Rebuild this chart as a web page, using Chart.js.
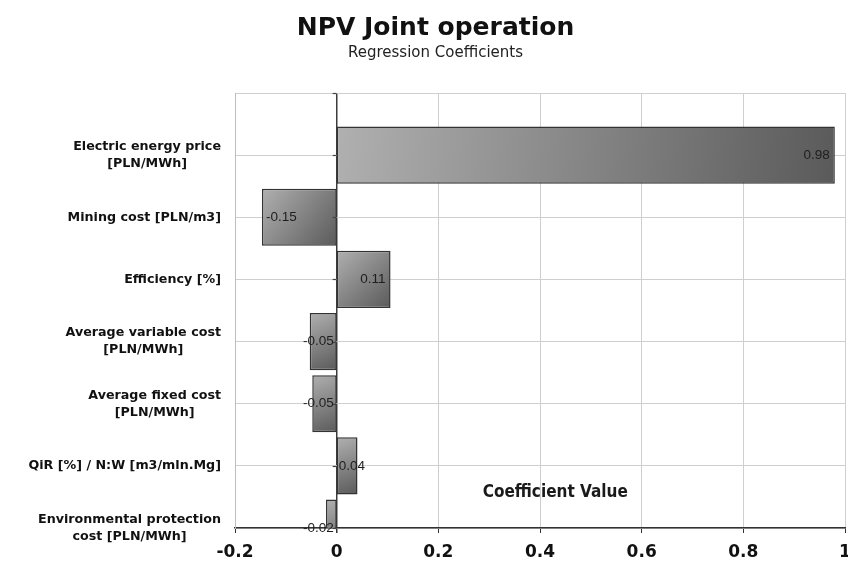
<!DOCTYPE html>
<html>
<head>
<meta charset="utf-8">
<script src="https://cdn.jsdelivr.net/npm/chart.js@4/dist/chart.umd.min.js"></script>
<style>
  html, body { margin: 0; padding: 0; background: #ffffff; }
  #wrap { width: 848px; height: 563px; position: relative; }
</style>
</head>
<body>
<div id="wrap"><canvas id="c" width="848" height="563"></canvas></div>
<script>
// ---- data ----
const chartTitle = 'NPV Joint operation';
const chartSubtitle = 'Regression Coefficients';
const axisTitle = 'Coefficient Value';
const categories = [
  ['Electric energy price', '[PLN/MWh]'],
  'Mining cost [PLN/m3]',
  'Efficiency [%]',
  ['Average variable cost', '[PLN/MWh]'],
  ['Average fixed cost', '[PLN/MWh]'],
  'QiR [%] / N:W [m3/mln.Mg]',
  ['Environmental protection', 'cost [PLN/MWh]']
];
const coefficients = [0.98, -0.147, 0.106, -0.053, -0.048, 0.041, -0.021];
const xMin = -0.2, xMax = 1, xStep = 0.2;

// leading empty slot gives the band above the first bar
const labels = [''].concat(categories);
const values = [null].concat(coefficients);

const BAR_PCT = 0.92;

function barGradient(ctx) {
  const chart = ctx.chart;
  if (!chart.chartArea || ctx.type !== 'data' || ctx.raw == null) return '#888888';
  const xs = chart.scales.x, ys = chart.scales.y;
  const x0 = xs.getPixelForValue(0), x1 = xs.getPixelForValue(ctx.raw);
  const yc = ys.getPixelForValue(ctx.dataIndex);
  const half = Math.abs(ys.getPixelForValue(1) - ys.getPixelForValue(0)) * BAR_PCT / 2;
  const g = chart.ctx.createLinearGradient(Math.min(x0, x1), yc - half, Math.max(x0, x1), yc + half);
  g.addColorStop(0, '#b0b0b0');
  g.addColorStop(1, '#5a5a5a');
  return g;
}

const extras = {
  id: 'extras',
  afterDatasetsDraw(chart) {
    const ctx = chart.ctx;
    const xs = chart.scales.x, ys = chart.scales.y;
    const area = chart.chartArea;
    const x0 = xs.getPixelForValue(0);
    ctx.save();
    // small ticks on the zero line
    ctx.strokeStyle = '#444444';
    ctx.lineWidth = 1.2;
    for (let i = 0; i < labels.length; i++) {
      const py = Math.round(ys.getPixelForValue(i)) + 0.5;
      ctx.beginPath();
      ctx.moveTo(x0 - 4, py);
      ctx.lineTo(x0, py);
      ctx.stroke();
    }
    // value labels
    const meta = chart.getDatasetMeta(0);
    ctx.font = '13.5px "Liberation Sans", Arial, sans-serif';
    ctx.fillStyle = '#1e1e1e';
    ctx.textBaseline = 'middle';
    meta.data.forEach((bar, i) => {
      const v = values[i];
      if (v == null) return;
      const p = bar.getProps(['x', 'base', 'y'], true);
      const txt = v.toFixed(2);
      const w = ctx.measureText(txt).width;
      const bw = Math.abs(p.x - p.base);
      const fits = w + 9 <= bw;
      if (v >= 0) {
        if (fits) { ctx.textAlign = 'right'; ctx.fillText(txt, p.x - 5, p.y); }
        else { ctx.textAlign = 'left'; ctx.fillText(txt, p.base + 2, p.y); }
      } else {
        if (fits) { ctx.textAlign = 'left'; ctx.fillText(txt, p.x + 4, p.y); }
        else { ctx.textAlign = 'right'; ctx.fillText(txt, p.base - 3, p.y); }
      }
    });
    // axis title inside the plot
    ctx.font = 'bold 16px "DejaVu Sans", sans-serif';
    ctx.font = 'bold condensed 17px "DejaVu Sans", sans-serif';
    ctx.fillStyle = '#1a1a1a';
    ctx.textAlign = 'center';
    ctx.fillText(axisTitle, area.left + (area.right - area.left) * 0.525, area.bottom - 35);
    ctx.restore();
  },
  afterDraw(chart) {
    // category labels: block right-aligned, lines centered within the block
    const ctx = chart.ctx;
    const ys = chart.scales.y;
    ctx.save();
    ctx.font = 'bold 12.7px "DejaVu Sans", Verdana, sans-serif';
    ctx.fillStyle = '#111111';
    ctx.textBaseline = 'middle';
    ctx.textAlign = 'center';
    const right = ys.right - 14;
    const lineH = 17;
    for (let i = 1; i < labels.length; i++) {
      const lines = Array.isArray(labels[i]) ? labels[i] : [labels[i]];
      const bw = Math.max(...lines.map(l => ctx.measureText(l).width));
      const cx = right - bw / 2;
      const py = ys.getPixelForValue(i);
      const start = py - (lines.length - 1) * lineH / 2;
      lines.forEach((l, k) => ctx.fillText(l, cx, start + k * lineH));
    }
    ctx.restore();
  }
};

new Chart(document.getElementById('c'), {
  type: 'bar',
  data: {
    labels: labels,
    datasets: [{
      data: values,
      backgroundColor: barGradient,
      borderColor: '#333333',
      borderWidth: 1.5,
      borderSkipped: false,
      barPercentage: BAR_PCT,
      categoryPercentage: 1.0
    }]
  },
  options: {
    indexAxis: 'y',
    responsive: false,
    animation: false,
    events: [],
    layout: { padding: { left: 26, right: 3, top: 0, bottom: 0 } },
    plugins: {
      legend: { display: false },
      tooltip: { enabled: false },
      title: {
        display: true,
        text: chartTitle,
        color: '#111111',
        font: { family: '"DejaVu Sans", Verdana, sans-serif', size: 25, weight: 'bold', lineHeight: 1.2 },
        padding: { top: 13, bottom: 0 }
      },
      subtitle: {
        display: true,
        text: chartSubtitle,
        color: '#222222',
        font: { family: '"DejaVu Sans", Verdana, sans-serif', size: 15, weight: 'normal', lineHeight: 1.2 },
        padding: { top: 1, bottom: 31 }
      }
    },
    scales: {
      x: {
        type: 'linear',
        min: xMin,
        max: xMax,
        afterFit(scale) { scale.height = 35; scale.paddingLeft = 0; scale.paddingRight = 0; },
        ticks: {
          stepSize: xStep,
          color: '#111111',
          padding: 9,
          maxRotation: 0,
          font: { family: '"DejaVu Sans", Verdana, sans-serif', size: 17, weight: 'bold' },
          callback: (v) => String(Number(Number(v).toFixed(1)))
        },
        grid: {
          color: (c) => (c.tick && Math.abs(c.tick.value) < 1e-9) ? '#3c3c3c' : '#cfcfcf',
          lineWidth: (c) => (c.tick && Math.abs(c.tick.value) < 1e-9) ? 1.5 : 1,
          tickColor: '#333333',
          tickLength: 5,
          drawTicks: true
        },
        border: { display: true, color: '#333333', width: 1.5 }
      },
      y: {
        type: 'category',
        offset: false,
        afterFit(scale) { scale.width = 209; scale.paddingTop = 0; scale.paddingBottom = 0; },
        ticks: { display: false },
        grid: { offset: false, color: '#cfcfcf', drawTicks: false, lineWidth: 1 },
        border: { display: true, color: '#bdbdbd', width: 1 }
      }
    }
  },
  plugins: [extras]
});
</script>
</body>
</html>
